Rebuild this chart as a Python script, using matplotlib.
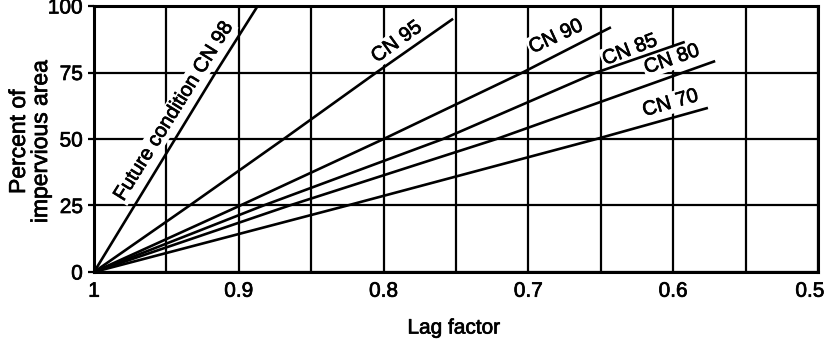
import matplotlib.pyplot as plt
import matplotlib.patheffects as pe
import matplotlib.transforms as mtrans
import numpy as np

plt.rcParams["font.family"] = ["Liberation Sans", "DejaVu Sans"]

# lag factor / percent impervious points
cn_labels = ["Future condition CN 98", "CN 95", "CN 90", "CN 85", "CN 80", "CN 70"]
lag_98 = [1.0, 0.972, 0.944, 0.916, 0.887]
pct_98 = [0, 25, 50, 75, 100]
lag_95 = [1.0, 0.934, 0.869, 0.805, 0.752]
pct_95 = [0, 25, 50, 75, 95.2]
lag_90 = [1.0, 0.899, 0.800, 0.704, 0.643]
pct_90 = [0, 25, 50, 75, 92]
lag_85 = [1.0, 0.883, 0.759, 0.653, 0.592]
pct_85 = [0, 25, 50, 75, 86.5]
lag_80 = [1.0, 0.865, 0.722, 0.571]
pct_80 = [0, 25, 50, 79.3]
lag_70 = [1.0, 0.825, 0.653, 0.576]
pct_70 = [0, 25, 50, 61.7]

# label anchor (lag, percent) and screen angle
label_lag = [0.945, 0.791, 0.681, 0.630, 0.601, 0.602]
label_pct = [60.5, 86.5, 88.5, 83.5, 80.0, 63.5]
label_rot = [58, 36, 25, 21, 19, 16]

x_ticks = [1.0, 0.9, 0.8, 0.7, 0.6, 0.5]
x_ticklabels = ["1", "0.9", "0.8", "0.7", "0.6", "0.5"]
y_ticks = [0, 25, 50, 75, 100]

heavy = [pe.withStroke(linewidth=0.5, foreground="black")]

fig = plt.figure(figsize=(8.3, 3.45), dpi=100)
ax = fig.add_axes([0.1133, 0.2116, 0.8722, 0.771])

curves = [
    (lag_98, pct_98),
    (lag_95, pct_95),
    (lag_90, pct_90),
    (lag_85, pct_85),
    (lag_80, pct_80),
    (lag_70, pct_70),
]
for lag, pct in curves:
    ax.plot(lag, pct, color="black", linewidth=1.9, zorder=4,
            solid_capstyle="butt")

for i, txt in enumerate(cn_labels):
    ax.text(label_lag[i], label_pct[i], txt, rotation=label_rot[i],
            rotation_mode="anchor", ha="center", va="center", fontsize=14.5,
            zorder=3, path_effects=heavy,
            bbox=dict(facecolor="white", edgecolor="none", pad=1.0))

ax.set_xlim(1.0, 0.5)
ax.set_ylim(0, 100)
ax.set_xticks(x_ticks)
ax.set_xticklabels(x_ticklabels)
ax.set_xticks(np.arange(0.55, 1.0, 0.1), minor=True)
ax.set_yticks(y_ticks)

ax.grid(True, which="both", color="black", linewidth=1.6, zorder=1)
ax.set_axisbelow(True)
for s in ax.spines.values():
    s.set_linewidth(2.2)
    s.set_zorder(5)

ax.tick_params(axis="x", which="both", length=0, pad=7, labelsize=15)
ax.tick_params(axis="y", length=4, width=1.6, pad=4, labelsize=15)
for lbl in ax.get_xticklabels() + ax.get_yticklabels():
    lbl.set_path_effects(heavy)

# last x label sits a little inside the figure edge
last = ax.get_xticklabels()[-1]
last.set_transform(last.get_transform()
                   + mtrans.ScaledTranslation(-8 / 100, 0, fig.dpi_scale_trans))

ax.set_xlabel("Lag factor", fontsize=15, path_effects=heavy)
ax.xaxis.set_label_coords(0.497, -0.175)
ax.set_ylabel("Percent of\nimpervious area", fontsize=16.5,
              linespacing=0.95, path_effects=heavy)
ax.yaxis.set_label_coords(-0.058, 0.49)

fig.savefig("out.png", dpi=100)
